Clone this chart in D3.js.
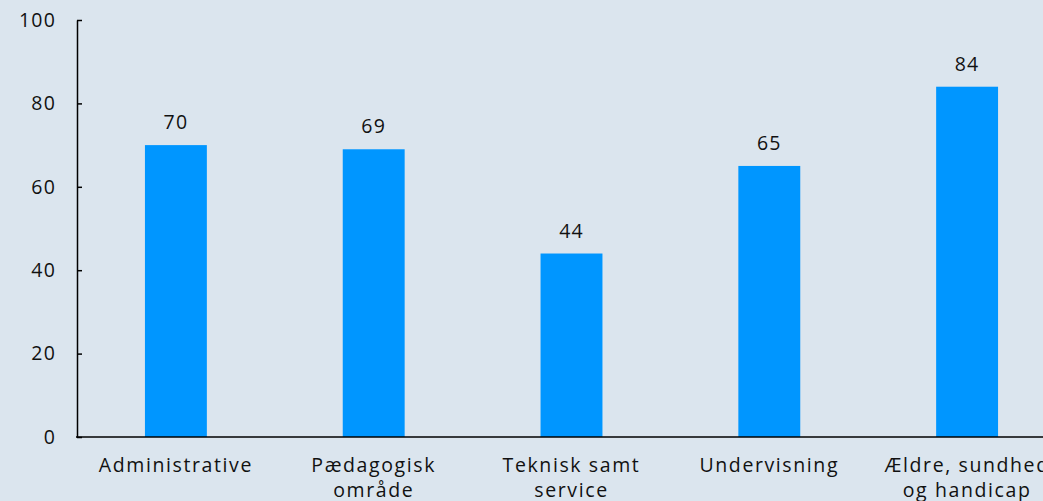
<!DOCTYPE html>
<html>
<head>
<meta charset="utf-8">
<script src="https://cdn.jsdelivr.net/npm/d3@7"></script>
<style>
  body { margin: 0; background: #dbe5ee; overflow: hidden; }
  svg { display: block; }
  text { font-family: "Open Sans", "Noto Sans", sans-serif; fill: #111; letter-spacing: 1.2px; }
  text.cat { letter-spacing: 1.6px; }
</style>
</head>
<body>
<div id="chart"></div>
<script>
const width = 1043;
const height = 501;

const categories = [
    ["Administrative"],
    ["Pædagogisk", "område"],
    ["Teknisk samt", "service"],
    ["Undervisning"],
    ["Ældre, sundhed", "og handicap"]
];
const values = [70, 69, 44, 65, 84];
const yTicks = [0, 20, 40, 60, 80, 100];

const x0 = 77, x1 = 1066;
const yTop = 20, yBottom = 437;
const fontSize = "19.5px";

const svg = d3.select("#chart")
    .append("svg")
    .attr("width", width)
    .attr("height", height);

const x = d3.scaleBand()
    .domain(d3.range(categories.length))
    .range([x0, x1])
    .paddingInner(0.687)
    .paddingOuter(0.3435);

const y = d3.scaleLinear()
    .domain([0, 100])
    .range([yBottom, yTop]);

// bars
svg.selectAll("rect.bar")
    .data(values)
    .enter()
    .append("rect")
    .attr("class", "bar")
    .attr("x", (d, i) => x(i))
    .attr("y", d => y(d))
    .attr("width", x.bandwidth())
    .attr("height", d => y(0) - y(d))
    .attr("fill", "#0096ff");

// value labels
svg.selectAll("text.value")
    .data(values)
    .enter()
    .append("text")
    .attr("class", "value")
    .attr("x", (d, i) => x(i) + x.bandwidth() / 2)
    .attr("y", d => y(d) - 16)
    .attr("text-anchor", "middle")
    .attr("font-size", fontSize)
    .text(d => d);

// y axis
const yAxis = svg.append("g")
    .attr("transform", `translate(${x0},0)`)
    .call(d3.axisRight(y).tickValues(yTicks).tickSize(5).tickSizeOuter(0));
yAxis.select(".domain").attr("stroke", "#000").attr("stroke-width", 1.5);
yAxis.selectAll(".tick line").attr("stroke", "#000").attr("stroke-width", 1.5);
yAxis.selectAll(".tick text")
    .attr("x", -21)
    .attr("text-anchor", "end")
    .attr("font-size", fontSize)
    .attr("fill", "#111")
    .style("font-family", "'Open Sans', 'Noto Sans', sans-serif");

// x axis line
svg.append("line")
    .attr("x1", x0 - 1)
    .attr("x2", width)
    .attr("y1", y(0))
    .attr("y2", y(0))
    .attr("stroke", "#000")
    .attr("stroke-width", 1.5);

// category labels
const catLabels = svg.selectAll("text.cat")
    .data(categories)
    .enter()
    .append("text")
    .attr("class", "cat")
    .attr("text-anchor", "middle")
    .attr("font-size", fontSize)
    .attr("x", (d, i) => x(i) + x.bandwidth() / 2)
    .attr("y", y(0) + 35);

catLabels.selectAll("tspan")
    .data(d => d)
    .enter()
    .append("tspan")
    .attr("x", function() { return d3.select(this.parentNode).attr("x"); })
    .attr("dy", (d, i) => i === 0 ? 0 : 25)
    .text(d => d);
</script>
</body>
</html>
